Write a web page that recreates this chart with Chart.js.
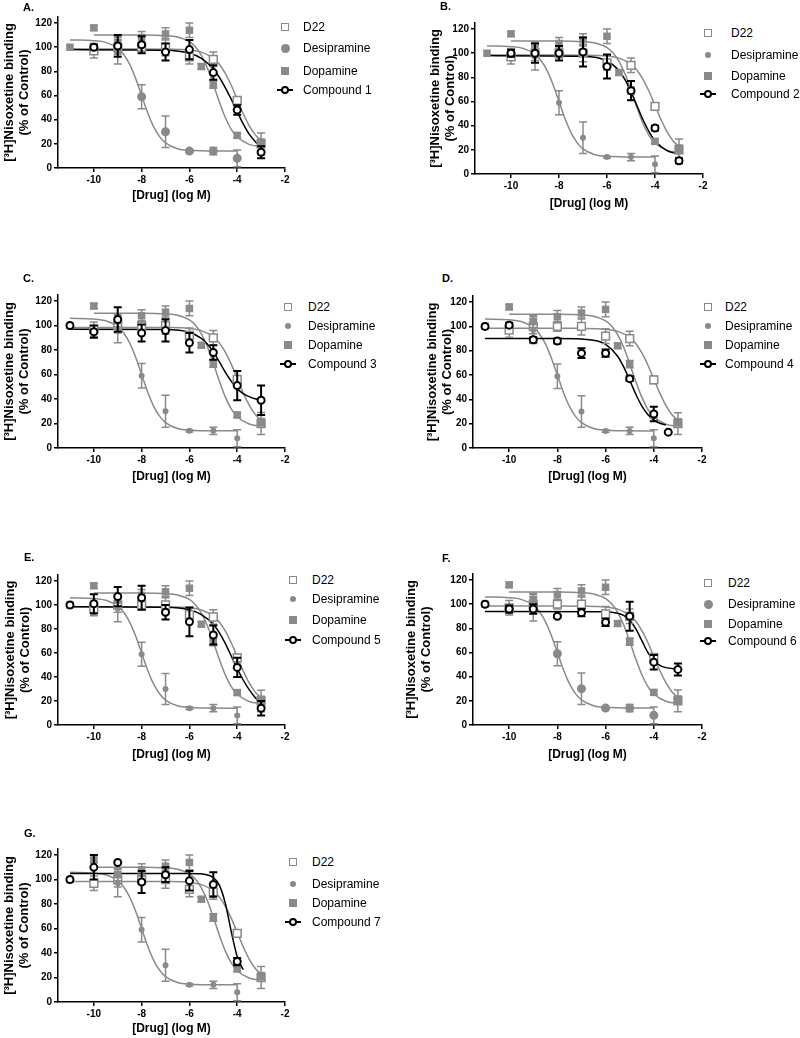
<!DOCTYPE html>
<html>
<head>
<meta charset="utf-8">
<script src="https://cdn.jsdelivr.net/npm/chart.js@4.4.0/dist/chart.umd.min.js"></script>
<style>
body { margin: 0; background: #fff; width: 800px; height: 1038px; position: relative; overflow: hidden; font-family: "Liberation Sans", Arial, sans-serif; }
canvas { position: absolute; }
.lbl { position: absolute; font: bold 11px "Liberation Sans", Arial, sans-serif; line-height: 12px; }
.leg { position: absolute; font: 12px "Liberation Sans", Arial, sans-serif; line-height: 14px; white-space: nowrap; color: #000; }
.mk { position: absolute; box-sizing: border-box; }
</style>
</head>
<body>
<script>
// axis ticks
const xTicks = [-10, -8, -6, -4, -2];
const yTicks = [0, 20, 40, 60, 80, 100, 120];

// reference series, same in every panel
const d22X = [-10, -9, -8, -7, -6, -5, -4, -3];
const d22Y = [97, 100, 100, 100, 92, 90, 56, 20];
const d22Err = [6, 6, 4, 7, 6, 6, 3, 9];
const d22FitX = [-11, -8, -7, -6, -5.5, -5, -4.75, -4.5, -4.25, -4, -3.75, -3.5, -3.25, -3];
const d22FitY = [98.5, 98.5, 98.4, 97.7, 95.9, 90.9, 85.9, 78.4, 68.5, 56.8, 45.1, 35.1, 27.6, 22.6];

const desiX = [-9, -8, -7, -6, -5, -4];
const desiY = [97, 59, 30, 14, 14, 8];
const desiErr = [11, 10, 13, 1, 3, 7];
const desiFitX = [-11, -10, -9.5, -9, -8.75, -8.5, -8.25, -8, -7.75, -7.5, -7.25, -7, -6.5, -6, -5, -4];
const desiFitY = [106, 105.4, 104, 99.2, 94, 85.8, 74.1, 60, 45.9, 34.2, 26, 20.8, 16, 14.6, 14.1, 14];

const dopaX = [-11, -10, -9, -8, -7, -6, -5.5, -5, -4, -3];
const dopaY = [100, 116, 104, 108, 111, 114, 84, 69, 27, 21];
const dopaErr = [0, 2, 5, 5, 5, 6, 2, 3, 2, 3];
const dopaFitX = [-10, -9, -8, -7, -6.5, -6, -5.75, -5.5, -5.25, -5, -4.75, -4.5, -4.25, -4, -3.5, -3];
const dopaFitY = [110, 110, 110, 109.5, 108.4, 104.6, 100.3, 93.3, 82.9, 69.4, 54.8, 41.8, 32, 25.6, 19.6, 17.8];

// compounds 1-7
const comp1X = [-10, -9, -8, -7, -6, -5, -4, -3];
const comp1Y = [100, 101, 102, 96, 98, 79, 48, 13];
const comp1Err = [2, 9, 7, 7, 8, 6, 4, 5];
const comp1FitX = [-11, -7, -6, -5.5, -5, -4.75, -4.5, -4.25, -4, -3.75, -3.5, -3.25, -3];
const comp1FitY = [98, 97.5, 95, 90.8, 82, 75.1, 66.6, 57, 46.5, 36.5, 28, 22, 17];

const comp2X = [-10, -9, -8, -7, -6, -5, -4, -3];
const comp2Y = [100, 100, 100, 101, 89, 69, 38, 11];
const comp2Err = [3, 8, 6, 12, 10, 8, 2, 2];
const comp2FitX = [-11, -7, -6, -5.5, -5.25, -5, -4.75, -4.5, -4.25, -4, -3.5, -3];
const comp2FitY = [98, 97.5, 93.6, 85.5, 78.1, 68.1, 56.5, 44.9, 35, 27.5, 19.4, 16.5];

const comp3X = [-11, -10, -9, -8, -7, -6, -5, -4, -3];
const comp3Y = [100, 95, 105, 94, 96, 86, 78, 51, 39];
const comp3Err = [0, 5, 10, 7, 9, 8, 6, 12, 12];
const comp3FitX = [-11, -7, -6, -5.5, -5.25, -5, -4.75, -4.5, -4.25, -4, -3.75, -3.5, -3.25, -3];
const comp3FitY = [97, 96.8, 94.5, 89.5, 85, 78.5, 70.5, 62, 54.5, 48.5, 44.5, 42, 40.3, 39.4];

const comp4X = [-11, -10, -9, -8, -7, -6, -5, -4, -3.4];
const comp4Y = [100, 101, 89, 88, 78, 78, 57, 28, 13];
const comp4Err = [0, 2, 2, 2, 4, 3, 2, 6, 0];
const comp4FitX = [-11, -8, -7, -6.5, -6, -5.5, -5.25, -5, -4.75, -4.5, -4.25, -4, -3.75, -3.5];
const comp4FitY = [90, 90, 89.6, 88.6, 85.2, 75.5, 66.7, 55.8, 44.4, 34.7, 27.6, 23, 20.3, 18.8];

const comp5X = [-11, -10, -9, -8, -7, -6, -5, -4, -3];
const comp5Y = [100, 101, 107, 106, 94, 86, 75, 48, 14];
const comp5Err = [0, 8, 8, 10, 6, 12, 8, 8, 6];
const comp5FitX = [-11, -7, -6, -5.5, -5, -4.75, -4.5, -4.25, -4, -3.75, -3.5, -3.25, -3];
const comp5FitY = [98.5, 98.2, 96.1, 92, 84, 77, 68, 57.5, 47, 37.5, 29.5, 23, 18];

const comp6X = [-11, -10, -9, -8, -7, -6, -5, -4, -3];
const comp6Y = [100, 96, 96, 90, 93, 85, 90, 52, 46];
const comp6Err = [0, 3, 4, 1, 3, 3, 12, 6, 5];
const comp6FitX = [-11, -6, -5.5, -5.25, -5, -4.75, -4.5, -4.25, -4, -3.75, -3.5, -3];
const comp6FitY = [94, 93.7, 92.5, 90.7, 86.7, 79.8, 70, 60.2, 53.3, 49.4, 47.5, 46.3];

const comp7X = [-11, -10, -9, -8, -7, -6, -5, -4];
const comp7Y = [100, 110, 114, 98, 104, 99, 96, 33];
const comp7Err = [0, 10, 0, 9, 6, 8, 10, 3];
const comp7FitX = [-11, -6, -5.5, -5, -4.75, -4.5, -4.25, -4, -3.75];
const comp7FitY = [105, 105, 104.7, 101.7, 95.5, 80.8, 57.6, 37.1, 26.3];

const seriesNames = ['D22', 'Desipramine', 'Dopamine'];

const compounds = [
  { name: 'Compound 1', x: comp1X, y: comp1Y, err: comp1Err, fitX: comp1FitX, fitY: comp1FitY },
  { name: 'Compound 2', x: comp2X, y: comp2Y, err: comp2Err, fitX: comp2FitX, fitY: comp2FitY },
  { name: 'Compound 3', x: comp3X, y: comp3Y, err: comp3Err, fitX: comp3FitX, fitY: comp3FitY },
  { name: 'Compound 4', x: comp4X, y: comp4Y, err: comp4Err, fitX: comp4FitX, fitY: comp4FitY },
  { name: 'Compound 5', x: comp5X, y: comp5Y, err: comp5Err, fitX: comp5FitX, fitY: comp5FitY },
  { name: 'Compound 6', x: comp6X, y: comp6Y, err: comp6Err, fitX: comp6FitX, fitY: comp6FitY },
  { name: 'Compound 7', x: comp7X, y: comp7Y, err: comp7Err, fitX: comp7FitX, fitY: comp7FitY }
];

// where each panel sits on the page
const layouts = [
  { label: 'A.', lx: 23, ly: 1, left: 0, top: 8, yW: 58, padTop: 9, plotW: 227, plotH: 151, xH: 35, legX: 285, legT: 303, rows: [27, 48, 71, 90], desiR: 4.5 },
  { label: 'B.', lx: 440, ly: 0, left: 426, top: 14, yW: 49, padTop: 9, plotW: 228, plotH: 151, xH: 37, legX: 708, legT: 731, rows: [33, 55, 76, 94], desiR: 3 },
  { label: 'C.', lx: 23, ly: 272, left: 0, top: 286, yW: 58, padTop: 9, plotW: 227, plotH: 153, xH: 36, legX: 288, legT: 308, rows: [307, 326, 345, 364], desiR: 3 },
  { label: 'D.', lx: 442, ly: 272, left: 423, top: 287, yW: 50, padTop: 9, plotW: 229, plotH: 152, xH: 36, legX: 708, legT: 725, rows: [307, 326, 345, 364], desiR: 3 },
  { label: 'E.', lx: 24, ly: 551, left: 1, top: 566, yW: 57, padTop: 9, plotW: 227, plotH: 150, xH: 37, legX: 293, legT: 312, rows: [580, 599, 620, 640], desiR: 3 },
  { label: 'F.', lx: 442, ly: 552, left: 402, top: 565, yW: 71, padTop: 9, plotW: 229, plotH: 151, xH: 37, legX: 708, legT: 728, rows: [583, 604, 624, 641], desiR: 4.5 },
  { label: 'G.', lx: 24, ly: 827, left: 0, top: 840, yW: 58, padTop: 9, plotW: 227, plotH: 153, xH: 34, legX: 293, legT: 312, rows: [862, 884, 903, 922], desiR: 3 }
];

const grey = '#8a8a8a';
const fontFam = '"Liberation Sans", Arial, sans-serif';

function pts(xs, ys) {
  return xs.map((x, i) => ({ x: x, y: ys[i] }));
}

// draws +/- error bars under each point dataset that has an errors array
const errorBars = {
  id: 'errorBars',
  beforeDatasetDraw(chart, args) {
    const ds = chart.data.datasets[args.index];
    if (!ds.errors) return;
    const ctx = chart.ctx;
    const xs = chart.scales.x, ys = chart.scales.y;
    ctx.save();
    ctx.strokeStyle = ds.borderColor;
    ctx.lineWidth = ds.errWidth;
    ds.data.forEach((p, i) => {
      const e = ds.errors[i];
      if (!e) return;
      const x = xs.getPixelForValue(p.x);
      const y1 = ys.getPixelForValue(p.y + e);
      const y2 = ys.getPixelForValue(p.y - e);
      ctx.beginPath();
      ctx.moveTo(x, y1); ctx.lineTo(x, y2);
      ctx.moveTo(x - 4, y1); ctx.lineTo(x + 4, y1);
      ctx.moveTo(x - 4, y2); ctx.lineTo(x + 4, y2);
      ctx.stroke();
    });
    ctx.restore();
  }
};

function addDiv(cls, css, text) {
  const d = document.createElement('div');
  d.className = cls;
  d.style.cssText = css;
  if (text) d.textContent = text;
  document.body.appendChild(d);
  return d;
}

function makeLegend(L, comp) {
  const names = seriesNames.concat([comp.name]);
  names.forEach((n, i) => {
    addDiv('leg', `left:${L.legT}px;top:${L.rows[i] - 7}px;`, n);
  });
  const cx = L.legX;
  let r = L.rows;
  addDiv('mk', `left:${cx - 4}px;top:${r[0] - 4}px;width:8px;height:8px;border:1.5px solid ${grey};background:#fff;`);
  const dr = L.desiR;
  addDiv('mk', `left:${cx - dr}px;top:${r[1] - dr}px;width:${dr * 2}px;height:${dr * 2}px;border-radius:50%;background:${grey};`);
  addDiv('mk', `left:${cx - 4}px;top:${r[2] - 4}px;width:8px;height:8px;background:${grey};`);
  addDiv('mk', `left:${cx - 8}px;top:${r[3] - 1}px;width:16px;height:2px;background:#000;`);
  addDiv('mk', `left:${cx - 4}px;top:${r[3] - 4}px;width:8px;height:8px;border-radius:50%;border:2px solid #000;background:#fff;`);
}

function makePanel(L, comp) {
  const cv = document.createElement('canvas');
  const w = L.yW + L.plotW + 10;
  const h = L.padTop + L.plotH + L.xH;
  cv.width = w; cv.height = h;
  cv.style.left = L.left + 'px';
  cv.style.top = L.top + 'px';
  document.body.appendChild(cv);

  addDiv('lbl', `left:${L.lx}px;top:${L.ly}px;`, L.label);

  const curve = (xs, ys, col, ord) => ({
    type: 'line', data: pts(xs, ys), borderColor: col, borderWidth: 1.5,
    pointRadius: 0, cubicInterpolationMode: 'monotone', fill: false, order: ord
  });

  const datasets = [
    curve(d22FitX, d22FitY, grey, 10),
    curve(desiFitX, desiFitY, grey, 10),
    curve(dopaFitX, dopaFitY, grey, 10),
    curve(comp.fitX, comp.fitY, '#000', 9),
    { data: pts(d22X, d22Y), errors: d22Err, errWidth: 1.5, pointStyle: 'rect', pointRadius: 5.5,
      borderColor: grey, backgroundColor: '#fff', borderWidth: 1.5, order: 4 },
    { data: pts(desiX, desiY), errors: desiErr, errWidth: 1.5, pointStyle: 'circle', pointRadius: L.desiR,
      borderColor: grey, backgroundColor: grey, borderWidth: 0, order: 3 },
    { data: pts(dopaX, dopaY), errors: dopaErr, errWidth: 1.5, pointStyle: 'rect', pointRadius: 5.3,
      borderColor: grey, backgroundColor: grey, borderWidth: 0, order: 2 },
    { data: pts(comp.x, comp.y), errors: comp.err, errWidth: 2, pointStyle: 'circle', pointRadius: 3.5,
      borderColor: '#000', backgroundColor: '#fff', borderWidth: 2, order: 1 }
  ];

  const axisGrid = { drawOnChartArea: false, drawTicks: true, tickLength: 4, color: '#000', lineWidth: 1.5 };
  const tickFont = { family: fontFam, size: 10, weight: 'bold' };

  new Chart(cv, {
    type: 'scatter',
    data: { datasets: datasets },
    plugins: [errorBars],
    options: {
      responsive: false,
      animation: false,
      devicePixelRatio: 1,
      events: [],
      layout: { padding: { top: L.padTop, right: 10, left: 0, bottom: 0 } },
      plugins: { legend: { display: false }, tooltip: { enabled: false } },
      scales: {
        x: {
          type: 'linear', min: -11.5, max: -2,
          afterBuildTicks: s => { s.ticks = xTicks.map(v => ({ value: v })); },
          afterFit: s => { s.height = L.xH; },
          grid: axisGrid,
          border: { color: '#000', width: 1.5 },
          ticks: { color: '#000', font: tickFont, padding: 2, maxRotation: 0, autoSkip: false },
          title: { display: true, text: '[Drug] (log M)', color: '#000',
                   font: { family: fontFam, size: 12, weight: 'bold' }, padding: { top: 0, bottom: 0 } }
        },
        y: {
          type: 'linear', min: 0, max: 125,
          afterBuildTicks: s => { s.ticks = yTicks.map(v => ({ value: v })); },
          afterFit: s => { s.width = L.yW; },
          grid: axisGrid,
          border: { color: '#000', width: 1.5 },
          ticks: { color: '#000', font: tickFont, padding: 2 },
          title: { display: true, text: ['[³H]Nisoxetine binding', '(% of Control)'], color: '#000',
                   font: { family: fontFam, size: 13, weight: 'bold', lineHeight: 1.1 },
                   padding: { top: 2.5, bottom: 0 } }
        }
      }
    }
  });

  makeLegend(L, comp);
}

layouts.forEach((L, i) => makePanel(L, compounds[i]));
</script>
</body>
</html>
